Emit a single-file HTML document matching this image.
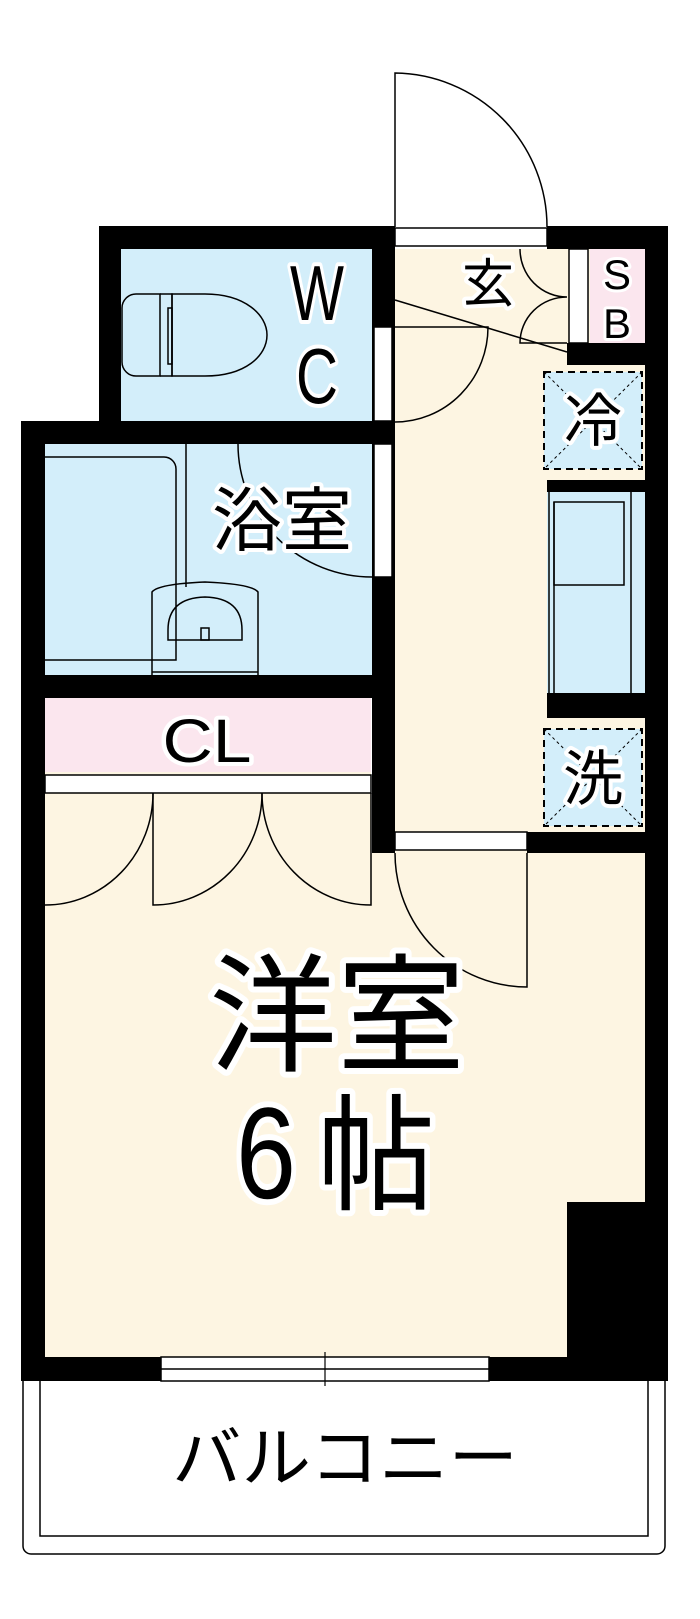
<!DOCTYPE html>
<html><head><meta charset="utf-8"><style>
html,body{margin:0;padding:0;background:#fff;}
svg{display:block;}
text{font-family:"Liberation Sans","Noto Sans CJK JP",sans-serif;fill:#000;paint-order:stroke;stroke:#fff;stroke-linejoin:round;}
</style></head><body>
<svg width="700" height="1619" viewBox="0 0 700 1619" xmlns="http://www.w3.org/2000/svg">
<!-- fills -->
<rect x="121" y="249" width="251" height="172" fill="#d3eefa"/>
<rect x="45" y="444" width="327" height="231" fill="#d3eefa"/>
<rect x="45" y="698" width="326" height="74" fill="#fbe6ee"/>
<rect x="45" y="772" width="326" height="600" fill="#fdf5e2"/>
<rect x="395" y="249" width="250" height="604" fill="#fdf5e2"/>
<rect x="45" y="853" width="600" height="504" fill="#fdf5e2"/>
<!-- SB -->
<rect x="569" y="249" width="19" height="94" fill="#fff" stroke="#000" stroke-width="1.5"/>
<rect x="590" y="249" width="55" height="94" fill="#fbe6ee"/>
<!-- kitchen -->
<rect x="547" y="492" width="98" height="201" fill="#d3eefa"/>
<rect x="554" y="502" width="70" height="83" fill="none" stroke="#000" stroke-width="1.5"/>
<line x1="554" y1="502" x2="554" y2="693" stroke="#000" stroke-width="1.5"/>
<line x1="631" y1="492" x2="631" y2="693" stroke="#000" stroke-width="1.5"/>
<line x1="549" y1="492" x2="549" y2="693" stroke="#000" stroke-width="1.5"/>
<!-- walls -->
<g fill="#000">
<rect x="99" y="226" width="296" height="23"/>
<rect x="547" y="226" width="121" height="23"/>
<rect x="99" y="226" width="22" height="218"/>
<rect x="21" y="421" width="374" height="23"/>
<rect x="21" y="421" width="24" height="960"/>
<rect x="21" y="675" width="374" height="23"/>
<rect x="372" y="226" width="23" height="627"/>
<rect x="645" y="226" width="23" height="1155"/>
<rect x="567" y="343" width="78" height="22"/>
<rect x="547" y="480" width="98" height="12"/>
<rect x="547" y="693" width="98" height="25"/>
<rect x="527" y="832" width="118" height="21"/>
<rect x="567" y="1202" width="78" height="179"/>
<rect x="21" y="1357" width="647" height="24"/>
</g>
<!-- white openings -->
<g fill="#fff" stroke="#000" stroke-width="1.5">
<rect x="395" y="228" width="152" height="18"/>
<rect x="374" y="327" width="18" height="94"/>
<rect x="374" y="444" width="18" height="133"/>
<rect x="45" y="775" width="326" height="18"/>
<rect x="395" y="832" width="132" height="18"/>
<rect x="161" y="1357" width="328" height="24"/>
</g>
<line x1="161" y1="1369" x2="489" y2="1369" stroke="#000" stroke-width="1.5"/>
<line x1="325" y1="1352" x2="325" y2="1386" stroke="#000" stroke-width="1.2"/>
<!-- doors -->
<g fill="none" stroke="#000" stroke-width="1.5">
<path d="M395 227 V73 A154 154 0 0 1 547 227"/>
<path d="M395 327 H488 A93 95 0 0 1 395 422"/>
<path d="M238 444 A134 133 0 0 0 372 577"/>
<path d="M520 249 A47 48 0 0 0 567 297 A47 46 0 0 0 520 343 H567"/>
<line x1="395" y1="300" x2="567" y2="352"/>
<path d="M153 793 A108 112 0 0 1 45 905"/>
<path d="M153 793 V905 A109 112 0 0 0 262 793"/>
<path d="M262 793 A109 112 0 0 0 371 905 V793"/>
<path d="M395 853 A132 134 0 0 0 527 987 V853"/>
<!-- toilet -->
<path d="M136 294 H160 V376 H136 A14 14 0 0 1 122 362 V308 A14 14 0 0 1 136 294 Z"/>
<path d="M160 294 H172 V376 H160"/>
<path d="M172 294 H205 C245 294 267 315 267 335 C267 356 245 376 205 376 H172 Z"/>
<rect x="168" y="308" width="4" height="56"/>
<!-- bath -->
<path d="M45 457 H164 A12 12 0 0 1 176 469 V660 H45"/>
<line x1="186" y1="444" x2="186" y2="587"/>
<path d="M152 675 V592 Q158 584 205 582 Q252 584 258 592 V675"/>
<path d="M168 630 Q168 598 205 597 Q242 598 242 630 V640 H168 Z"/>
<rect x="201" y="628" width="8" height="12"/>
<line x1="152" y1="672" x2="258" y2="672"/>
<!-- balcony -->
<path d="M23 1381 V1546 A8 8 0 0 0 31 1554 H657 A8 8 0 0 0 665 1546 V1381"/>
<path d="M40 1381 V1536 H648 V1381"/>
</g>
<!-- appliance boxes -->
<g fill="#d3eefa" stroke="#000" stroke-width="2" stroke-dasharray="7 5">
<rect x="544" y="372" width="98" height="97"/>
<rect x="544" y="729" width="98" height="97"/>
</g>
<g stroke="#000" stroke-width="1" stroke-dasharray="3 3">
<line x1="544" y1="372" x2="642" y2="469"/><line x1="642" y1="372" x2="544" y2="469"/>
<line x1="544" y1="729" x2="642" y2="826"/><line x1="642" y1="729" x2="544" y2="826"/>
</g>
<!-- labels -->
<text x="317" y="320" font-size="78" stroke-width="8" text-anchor="middle" textLength="54" lengthAdjust="spacingAndGlyphs">W</text>
<text x="317" y="403" font-size="78" stroke-width="8" text-anchor="middle" textLength="42" lengthAdjust="spacingAndGlyphs">C</text>
<text x="282" y="545" font-size="70" stroke-width="8" text-anchor="middle">浴室</text>
<text x="488" y="302" font-size="52" stroke-width="8" text-anchor="middle">玄</text>
<text x="617" y="289" font-size="42" stroke-width="6" text-anchor="middle">S</text>
<text x="617" y="338" font-size="42" stroke-width="6" text-anchor="middle">B</text>
<text x="593" y="441" font-size="58" stroke-width="8" text-anchor="middle">冷</text>
<text x="593" y="800" font-size="60" stroke-width="8" text-anchor="middle">洗</text>
<text x="207" y="762" font-size="61" stroke-width="8" text-anchor="middle" textLength="89" lengthAdjust="spacingAndGlyphs">CL</text>
<text x="337" y="1061" font-size="128" stroke-width="12" text-anchor="middle">洋室</text>
<text x="266" y="1198" font-size="130" stroke-width="12" text-anchor="middle" textLength="60" lengthAdjust="spacingAndGlyphs">6</text>
<text x="376" y="1200" font-size="126" stroke-width="12" text-anchor="middle" textLength="118" lengthAdjust="spacingAndGlyphs">帖</text>
<text x="345" y="1481" font-size="66" stroke-width="0" text-anchor="middle" textLength="346" lengthAdjust="spacingAndGlyphs">バルコニー</text>
</svg>
</body></html>
